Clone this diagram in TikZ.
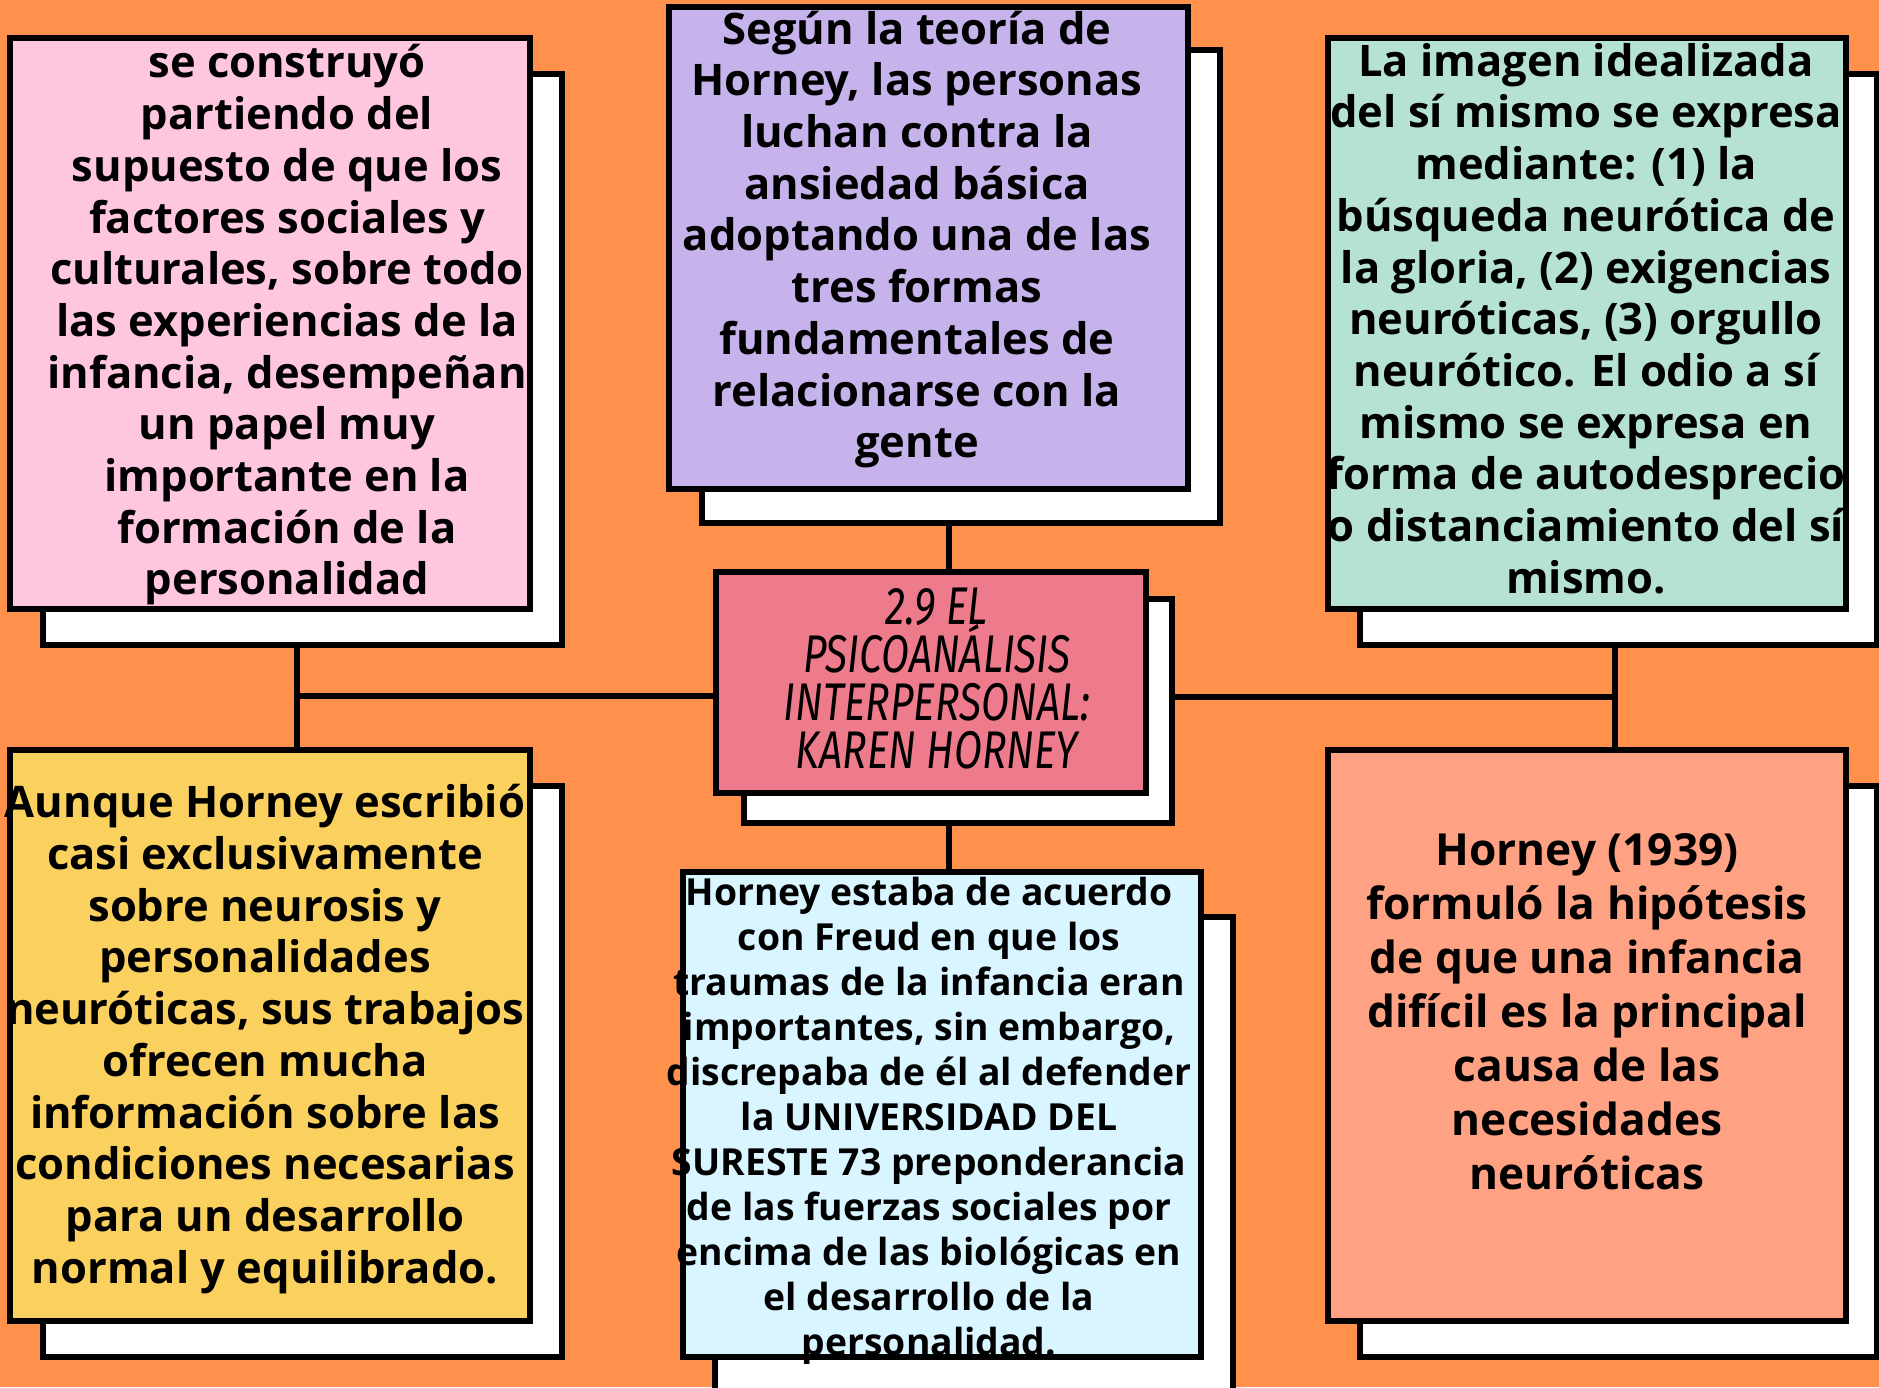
\documentclass[tikz,border=0pt]{standalone}
\usepackage{fontspec}
\setmainfont{Open Sans}
\newfontfamily\titlefont{Fira Sans}[FakeStretch=0.77]
\usetikzlibrary{fit}
\definecolor{bgorange}{HTML}{FF914D}
\definecolor{cpink}{HTML}{FFC6E0}
\definecolor{cpurple}{HTML}{C7B3EC}
\definecolor{cmint}{HTML}{B6E2D3}
\definecolor{ctitle}{HTML}{EE7B8C}
\definecolor{cyellow}{HTML}{FAD05E}
\definecolor{ccyan}{HTML}{D9F5FF}
\definecolor{csalmon}{HTML}{FFA183}
\setlength{\lineskiplimit}{-100pt}
\begin{document}
\begin{tikzpicture}[x=1pt,y=-1pt]
\tikzset{
 card/.style={draw=black, line width=6pt, inner sep=0pt, outer sep=0pt, rectangle},
 backcard/.style={card, fill=white},
 bodytext/.style={align=center, inner sep=0pt, font=\bfseries\fontsize{43.5}{51.7}\selectfont},
 smalltext/.style={align=center, inner sep=0pt, font=\bfseries\fontsize{37.3}{45}\selectfont},
 bigtext/.style={align=center, inner sep=0pt, font=\bfseries\fontsize{44.2}{54}\selectfont},
 titletextstyle/.style={align=center, inner sep=0pt, font=\titlefont\itshape\fontsize{53}{48}\selectfont},
 link/.style={draw=black, line width=6pt},
}
\fill[bgorange] (0,0) rectangle (1879,1387);
\useasboundingbox (0,0) rectangle (1879,1387);

% junction coordinates
\coordinate (lj) at (297,696);
\coordinate (rj) at (1615,697);
\coordinate (cxline) at (949,0);

% pink (top left)
\node[backcard, fit={(43.1,74.3) (562,644.7)}] (pinkB) {};
\node[card, fill=cpink, fit={(9.6,38.3) (529.7,608.8)}] (pink) {};
\node[bodytext] (pinkT) at (287,325) {se construyó\\partiendo del\\supuesto de que los\\factores sociales y\\culturales, sobre todo\\las experiencias de la\\infancia, desempeñan\\un papel muy\\importante en la\\formación de la\\personalidad};

% purple (top centre)
\node[backcard, fit={(702.3,50.3) (1220,522.5)}] (purpleB) {};
\node[card, fill=cpurple, fit={(668.7,7.2) (1187.6,489)}] (purple) {};
\node[bodytext] (purpleT) at (917,239.5) {Según la teoría de\\Horney, las personas\\luchan contra la\\ansiedad básica\\adoptando una de las\\tres formas\\fundamentales de\\relacionarse con la\\gente};

% mint (top right)
\node[backcard, fit={(1360.2,74.3) (1876.7,644.7)}] (mintB) {};
\node[card, fill=cmint, fit={(1327.8,38.3) (1845.5,608.8)}] (mint) {};
\node[bodytext] (mintT) at (1586,318.5) {La imagen idealizada\\del sí mismo se expresa\\mediante: (1) la\\búsqueda neurótica de\\la gloria, (2) exigencias\\neuróticas, (3) orgullo\\neurótico. El odio a sí\\mismo se expresa en\\forma de autodesprecio\\o distanciamiento del sí\\mismo.};

% title (centre)
\node[backcard, fit={(744,598.5) (1172,822.5)}] (titleB) {};
\node[card, fill=ctitle, fit={(716,571.5) (1146,792.5)}] (title) {};
\node[titletextstyle] (titleT) at (937,679) {2.9 EL\\PSICOANÁLISIS\\INTERPERSONAL:\\KAREN HORNEY};

% yellow (bottom left)
\node[backcard, fit={(43.1,786.2) (562,1356.6)}] (yellowB) {};
\node[card, fill=cyellow, fit={(9.6,750.2) (529.7,1320.6)}] (yellow) {};
\node[bodytext] (yellowT) at (265,1039) {Aunque Horney escribió\\casi exclusivamente\\sobre neurosis y\\personalidades\\neuróticas, sus trabajos\\ofrecen mucha\\información sobre las\\condiciones necesarias\\para un desarrollo\\normal y equilibrado.};

% cyan (bottom centre)
\node[backcard, fit={(715.4,916.8) (1233.1,1440)}] (cyanB) {};
\node[card, fill=ccyan, fit={(683.1,872.4) (1200.8,1356.6)}] (cyan) {};
\node[smalltext] (cyanT) at (929,1121) {Horney estaba de acuerdo\\con Freud en que los\\traumas de la infancia eran\\importantes, sin embargo,\\discrepaba de él al defender\\la UNIVERSIDAD DEL\\SURESTE 73 preponderancia\\de las fuerzas sociales por\\encima de las biológicas en\\el desarrollo de la\\personalidad.};

% salmon (bottom right)
\node[backcard, fit={(1360.2,786.2) (1876.7,1356.6)}] (salmonB) {};
\node[card, fill=csalmon, fit={(1327.8,750.2) (1845.5,1320.6)}] (salmon) {};
\node[bigtext] (salmonT) at (1587,1012) {Horney (1939)\\formuló la hipótesis\\de que una infancia\\difícil es la principal\\causa de las\\necesidades\\neuróticas};

% connectors
\draw[link] (purpleB.south -| cxline) -- (title.north -| cxline);
\draw[link] (titleB.south -| cxline) -- (cyan.north -| cxline);
\draw[link] (pinkB.south -| lj) -- (yellow.north -| lj);
\draw[link] (lj) -- (title.west |- lj);
\draw[link] (mintB.south -| rj) -- (salmon.north -| rj);
\draw[link] (titleB.east |- rj) -- (rj);
\end{tikzpicture}
\end{document}
